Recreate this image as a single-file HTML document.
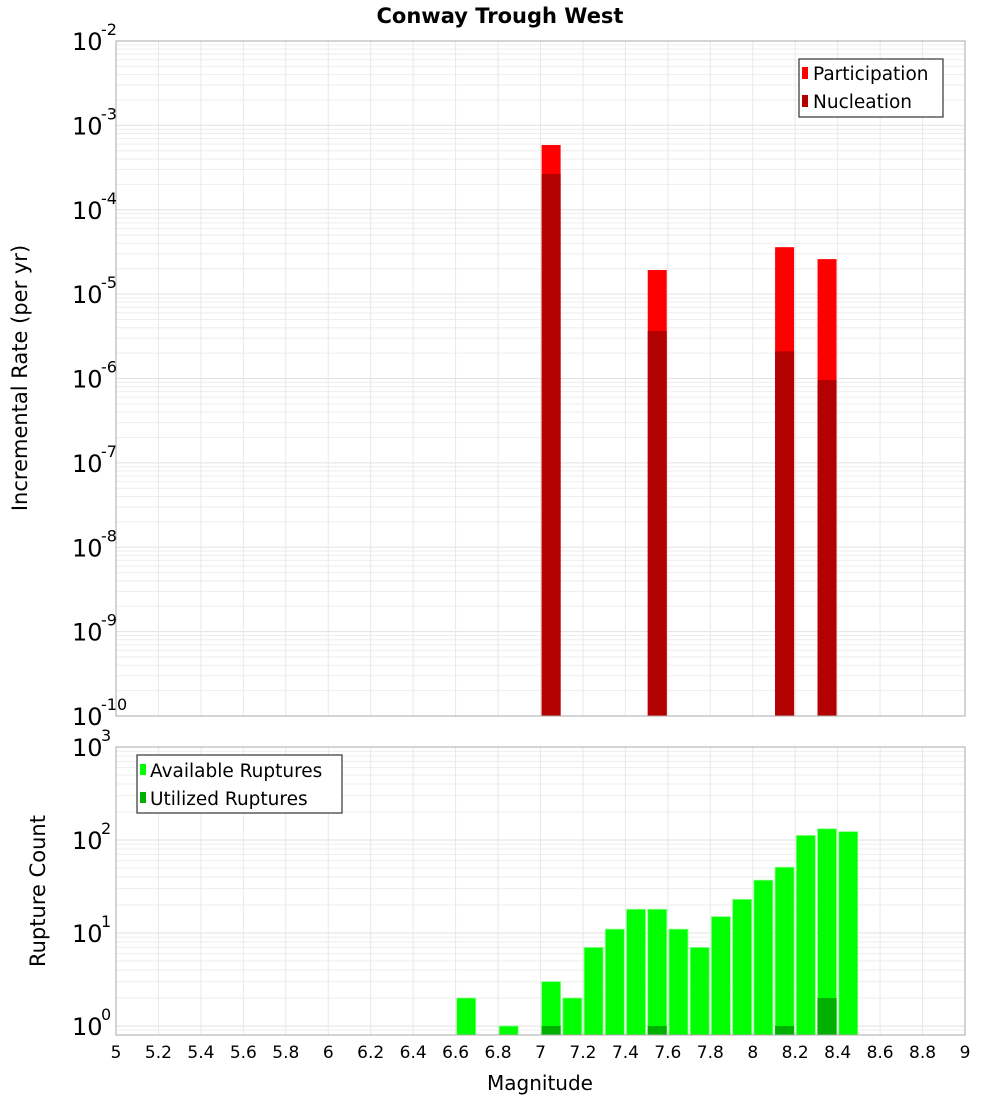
<!DOCTYPE html>
<html><head><meta charset="utf-8"><style>
body{margin:0;background:#fff;font-family:"DejaVu Sans","Liberation Sans",sans-serif}
svg{display:block}
</style></head><body>
<svg id="chart" width="1000" height="1100" xmlns="http://www.w3.org/2000/svg">
<text x="500" y="23" text-anchor="middle" font-size="21" font-weight="bold">Conway Trough West</text>
<g id="topPlot"></g>
<g id="botPlot"></g>
<text transform="translate(27,378) rotate(-90)" text-anchor="middle" font-size="21">Incremental Rate (per yr)</text>
<text transform="translate(45,891) rotate(-90)" text-anchor="middle" font-size="21">Rupture Count</text>
<text x="540" y="1090" text-anchor="middle" font-size="20">Magnitude</text>
<g>
<rect x="799" y="59" width="144" height="58" fill="#fff" stroke="#333" stroke-width="1.2"/>
<rect x="802" y="67" width="6" height="12" fill="#ff0000"/>
<text x="813" y="80" font-size="18.5">Participation</text>
<rect x="802" y="95" width="6" height="12" fill="#b30000"/>
<text x="813" y="108" font-size="18.5">Nucleation</text>
</g>
<g>
<rect x="137" y="755" width="205" height="58" fill="#fff" stroke="#333" stroke-width="1.2"/>
<rect x="140" y="764" width="6" height="11" fill="#00ff00"/>
<text x="150" y="777" font-size="18.5">Available Ruptures</text>
<rect x="140" y="792" width="6" height="11" fill="#00b000"/>
<text x="150" y="805" font-size="18.5">Utilized Ruptures</text>
</g>
</svg>
<script>
const rateMags=[7.05,7.55,8.15,8.35];
const participationRates=[5.85e-4,1.93e-5,3.6e-5,2.6e-5];
const nucleationRates=[2.65e-4,3.66e-6,2.1e-6,9.6e-7];
const countMags=[6.65,6.85,7.05,7.15,7.25,7.35,7.45,7.55,7.65,7.75,7.85,7.95,8.05,8.15,8.25,8.35,8.45];
const availableCounts=[2,1,3,2,7,11,18,18,11,7,15,23,37,51,112,132,123];
const utilizedMags=[7.05,7.55,8.15,8.35];
const utilizedCounts=[1,1,1,2];
const xTicks=[5,5.2,5.4,5.6,5.8,6,6.2,6.4,6.6,6.8,7,7.2,7.4,7.6,7.8,8,8.2,8.4,8.6,8.8,9];
const topExps=[-2,-3,-4,-5,-6,-7,-8,-9,-10];
const botExps=[3,2,1,0];

const NS="http://www.w3.org/2000/svg";
const PL=116,PR=965;
const xS=m=>PL+(m-5)/4*(PR-PL);
const T1=41,B1=716;
const yTop=v=>T1+(-2-Math.log10(v))/8*(B1-T1);
const T2=747,B2=1035,DEC2=93;
const yBot=v=>T2+(3-Math.log10(v))*DEC2;
function mk(p,tag,a){const e=document.createElementNS(NS,tag);for(const k in a)e.setAttribute(k,a[k]);p.appendChild(e);return e;}
const topG=document.getElementById('topPlot'),botG=document.getElementById('botPlot');

function grid(g,T,B,yf,lo,hi){
  for(let d=lo;d<hi;d++)for(let k=1;k<10;k++){const yy=yf(k*Math.pow(10,d));if(yy>=T&&yy<=B){const l=mk(g,'line',{x1:PL,x2:PR,y1:yy,y2:yy,stroke:k==1?'#e2e2e2':'#eeeeee','stroke-width':1});

}}
  xTicks.forEach(t=>{const l=mk(g,'line',{x1:xS(t),x2:xS(t),y1:T,y2:B,stroke:'#e8e8e8','stroke-width':1});

});
}
grid(topG,T1,B1,yTop,-10,-2);
grid(botG,T2,B2,yBot,-1,3);

const bw=19;
rateMags.forEach((m,i)=>{
  const r1=mk(topG,'rect',{x:xS(m)-bw/2,y:yTop(participationRates[i]),width:bw,height:B1-yTop(participationRates[i]),fill:'#ff0000'});
  
  
  const r2=mk(topG,'rect',{x:xS(m)-bw/2,y:yTop(nucleationRates[i]),width:bw,height:B1-yTop(nucleationRates[i]),fill:'#b30000'});
  
  
});
countMags.forEach((m,i)=>{
  const yy=yBot(availableCounts[i]);
  const r=mk(botG,'rect',{x:xS(m)-9.5,y:yy,width:19,height:B2-yy,fill:'#00ff00',stroke:'#88ff88','stroke-width':0.8});
  
  
});
utilizedMags.forEach((m,i)=>{
  const yy=yBot(utilizedCounts[i]);
  const r=mk(botG,'rect',{x:xS(m)-9.5,y:yy,width:19,height:B2-yy,fill:'#00b000'});
  
  
});
mk(topG,'rect',{x:PL,y:T1,width:PR-PL,height:B1-T1,fill:'none',stroke:'#aaaaaa','stroke-width':1});
mk(botG,'rect',{x:PL,y:T2,width:PR-PL,height:B2-T2,fill:'none',stroke:'#aaaaaa','stroke-width':1});

function ylab(g,e,yy){
  const t=mk(g,'text',{x:72,y:yy+9,'font-size':24});
  t.textContent='10';
  
  
  const s=mk(g,'text',{x:101,y:yy-6,'font-size':16});
  s.textContent=String(e);
}
topExps.forEach(e=>ylab(topG,e,yTop(Math.pow(10,e))));
botExps.forEach(e=>ylab(botG,e,yBot(Math.pow(10,e))));
xTicks.forEach(t=>{
  const tx=mk(botG,'text',{x:xS(t),y:1058,'text-anchor':'middle','font-size':17});
  tx.textContent=String(t);
  
  
});
</script>
</body></html>
